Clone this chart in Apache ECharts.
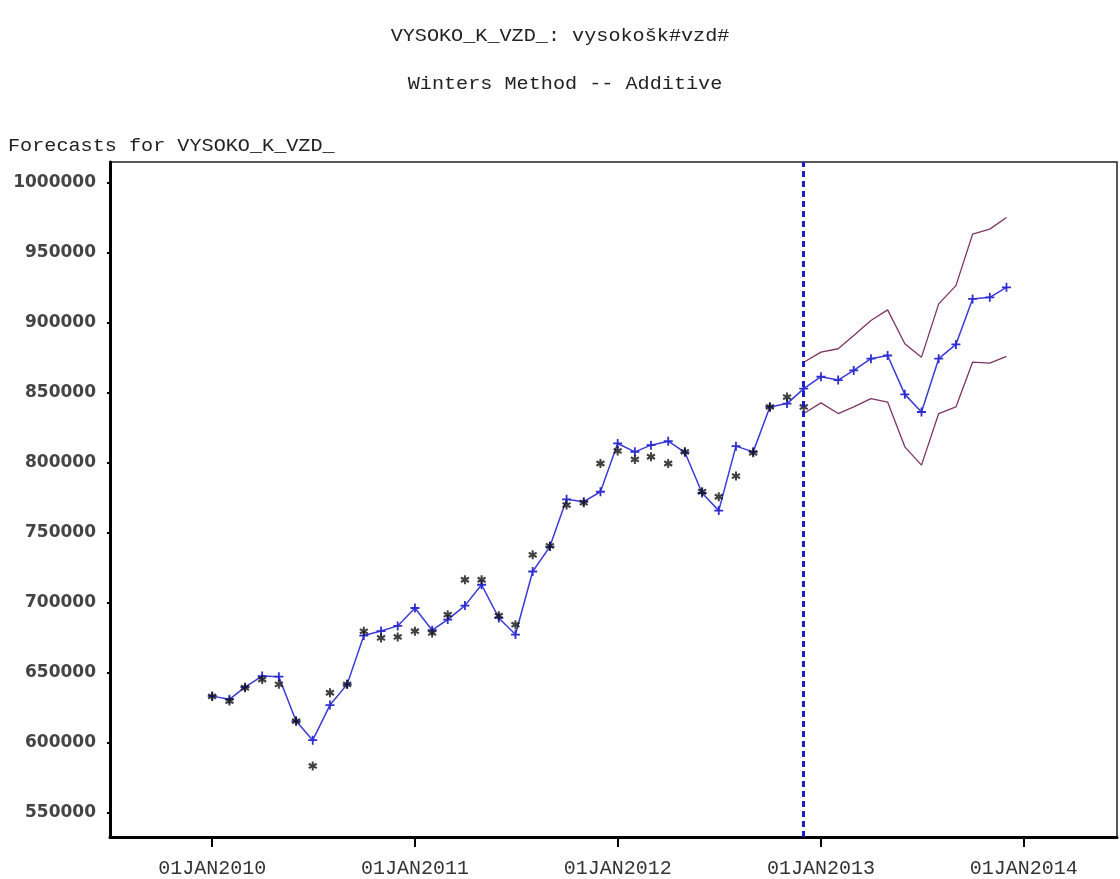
<!DOCTYPE html>
<html>
<head>
<meta charset="utf-8">
<script src="https://cdn.jsdelivr.net/npm/echarts@6/dist/echarts.min.js"></script>
<style>
  html, body { margin: 0; background: #fff; }
  #chart { width: 1120px; height: 879px; }
</style>
</head>
<body>
<div id="chart"></div>
<script>
// monthly series, Jan 2010 onwards
const actual = [
  633000, 629700, 639200, 645100, 641600, 615400, 583300, 635600, 641600, 679500, 674800, 675500,
  679600, 678400, 691400, 716400, 716400, 690700, 684300, 734200, 740600, 769800, 771500, 799500,
  808500, 802400, 804300, 799500, 807800, 779300, 775700, 790500, 807100, 839900, 847000, 839900
];
const forecast = [
  633200, 630900, 639600, 647500, 647100, 615400, 601700, 626800, 641600, 676500, 679700, 683400,
  696200, 680300, 687900, 697900, 712800, 689100, 677200, 722300, 740100, 773900, 772200, 779300,
  813800, 807800, 812600, 815400, 807500, 778400, 765800, 811900, 807800, 839900, 842300, 853000,
  861500, 859100, 866000, 874400, 876700, 848900, 836300, 874400, 884600, 917100, 918300, 925400
];
// confidence limits, Dec 2012 - Dec 2013
const bandStart = 35;
const upper95 = [871900, 879100, 881500, 891000, 901700, 909300, 885100, 875500, 913600, 926600, 963400, 967000, 975300];
const lower95 = [835200, 842800, 835200, 839900, 845900, 843400, 811400, 798300, 835200, 839900, 871900, 871200, 876000];

const yTicks = [550000, 600000, 650000, 700000, 750000, 800000, 850000, 900000, 950000, 1000000];
const xTickYears = [2010, 2011, 2012, 2013, 2014];
const MON = ['JAN', 'FEB', 'MAR', 'APR', 'MAY', 'JUN', 'JUL', 'AUG', 'SEP', 'OCT', 'NOV', 'DEC'];

const monthTs = i => Date.UTC(2010 + Math.floor(i / 12), i % 12, 1);
const toPairs = (arr, offset) => arr.map((v, i) => [monthTs(i + offset), v]);
const xTicks = xTickYears.map(y => Date.UTC(y, 0, 1));
const cutoff = monthTs(bandStart);

const mono = '"Liberation Mono", "DejaVu Sans Mono", monospace';
const plusPath = 'path://M4,0H6V4H10V6H6V10H4V6H0V4H4Z';
const starPath = 'path://M3.9,0L6.1,0L6.1,10L3.9,10Z' +
  'M0.1,3.6L1.2,1.5L9.9,6.4L8.8,8.5Z' +
  'M9.9,3.6L1.2,8.5L0.1,6.4L8.8,1.5Z';

const chart = echarts.init(document.getElementById('chart'));

chart.setOption({
  backgroundColor: '#fff',
  animation: false,
  graphic: [
    { type: 'text', x: 560, y: 36, scaleX: 1.12,
      style: { text: 'VYSOKO_K_VZD_: vysokošk#vzd#', font: '18px ' + mono, fill: '#222', textAlign: 'center', textVerticalAlign: 'middle' } },
    { type: 'text', x: 565, y: 84, scaleX: 1.12,
      style: { text: 'Winters Method -- Additive', font: '18px ' + mono, fill: '#222', textAlign: 'center', textVerticalAlign: 'middle' } },
    { type: 'text', x: 8, y: 146, scaleX: 1.12,
      style: { text: 'Forecasts for VYSOKO_K_VZD_', font: '18px ' + mono, fill: '#222', textAlign: 'left', textVerticalAlign: 'middle' } }
  ],
  grid: {
    left: 110, right: 3, top: 162, bottom: 42,
    show: true, borderColor: '#222', borderWidth: 1.5, backgroundColor: '#fff'
  },
  xAxis: {
    type: 'value',
    min: Date.UTC(2009, 6, 1),
    max: Date.UTC(2014, 5, 18),
    splitLine: { show: false },
    axisLine: { show: true, lineStyle: { color: '#000', width: 3 } },
    axisTick: { show: true, length: 10, lineStyle: { color: '#000', width: 2 }, customValues: xTicks },
    axisLabel: {
      customValues: xTicks,
      margin: 22,
      fontFamily: mono,
      fontSize: 20,
      color: '#333',
      formatter: v => {
        const d = new Date(v);
        return '01' + MON[d.getUTCMonth()] + d.getUTCFullYear();
      }
    }
  },
  yAxis: {
    type: 'value',
    min: 532500,
    max: 1015000,
    splitLine: { show: false },
    axisLine: { show: true, lineStyle: { color: '#000', width: 3 } },
    axisTick: { show: true, length: 3, lineStyle: { color: '#000', width: 2 }, customValues: yTicks },
    axisLabel: {
      customValues: yTicks,
      margin: 14,
      fontFamily: '"DejaVu Sans", sans-serif',
      fontWeight: 'bold',
      fontSize: 17,
      color: '#444',
      formatter: v => String(v)
    }
  },
  series: [
    {
      name: 'U95',
      type: 'line',
      data: toPairs(upper95, bandStart),
      symbol: 'none',
      lineStyle: { color: '#7d3565', width: 1.3 }
    },
    {
      name: 'L95',
      type: 'line',
      data: toPairs(lower95, bandStart),
      symbol: 'none',
      lineStyle: { color: '#7d3565', width: 1.3 }
    },
    {
      name: 'Forecast',
      type: 'line',
      data: toPairs(forecast, 0),
      symbol: plusPath,
      symbolSize: 9,
      showAllSymbol: true,
      itemStyle: { color: '#2e2ed0' },
      lineStyle: { color: '#3a3ad6', width: 1.5 },
      markLine: {
        silent: true,
        symbol: 'none',
        label: { show: false },
        lineStyle: { color: '#1c1cc4', width: 3, type: [6, 4] },
        data: [{ xAxis: cutoff }]
      },
      z: 3
    },
    {
      name: 'Actual',
      type: 'scatter',
      data: toPairs(actual, 0),
      symbol: starPath,
      symbolSize: 9,
      itemStyle: { color: '#111' },
      z: 4
    }
  ]
});
</script>
</body>
</html>
